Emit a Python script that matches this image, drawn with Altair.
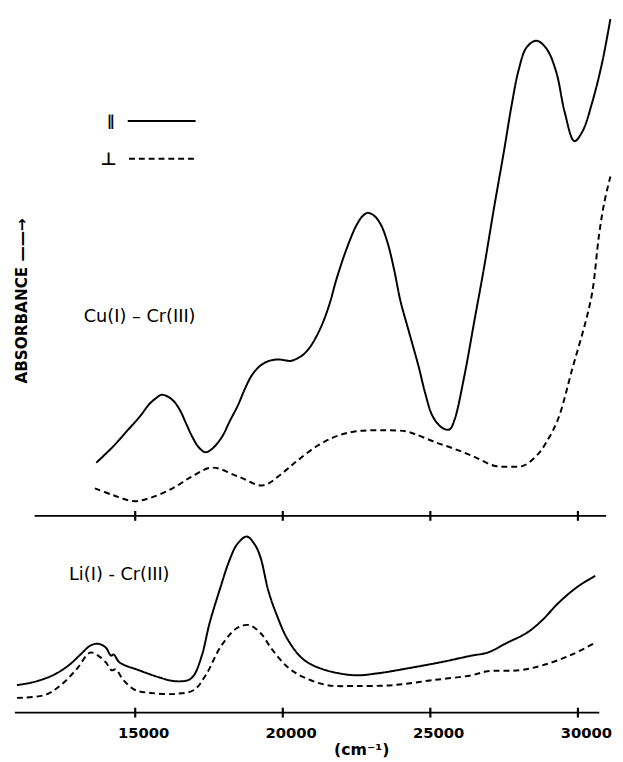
import altair as alt
import pandas as pd

# ---------------- data ----------------
POL = ["∥", "⊥"]
TICKS = [15000, 20000, 25000, 30000]
X_DOMAIN = [10923, 30923]
TOP_AXIS = [11590, 30957]
BOTTOM_AXIS = [10923, 30723]

# Cu(I)-Cr(III), parallel (solid)
CU_PAR_WN = [13680, 14267, 14713, 15157, 15490, 15723, 15880, 16090, 16323, 16523,
             16723, 16923, 17157, 17380, 17600, 17933, 18200, 18490, 18700, 18933,
             19213, 19490, 19823, 20100, 20267, 20490, 20700, 20933, 21150, 21380,
             21600, 21823, 22157, 22490, 22713, 22880, 23100, 23323, 23547, 23767,
             23990, 24267, 24600, 24823, 25050, 25300, 25500, 25657, 25823, 26157,
             26490, 26823, 27157, 27490, 27757, 27990, 28257, 28590, 28933, 29267,
             29547, 29880, 30157, 30490, 30823, 31100]
CU_PAR_A = [0.54, 0.71, 0.86, 1.01, 1.14, 1.20, 1.23, 1.215, 1.16, 1.07,
            0.94, 0.81, 0.695, 0.647, 0.68, 0.80, 0.96, 1.13, 1.28, 1.42,
            1.52, 1.57, 1.59, 1.58, 1.575, 1.60, 1.64, 1.72, 1.83, 1.98,
            2.17, 2.41, 2.71, 2.95, 3.05, 3.08, 3.05, 2.96, 2.78, 2.51,
            2.18, 1.88, 1.52, 1.25, 1.03, 0.92, 0.88, 0.88, 0.98, 1.43,
            1.98, 2.53, 3.13, 3.70, 4.18, 4.53, 4.76, 4.83, 4.75, 4.51,
            4.11, 3.81, 3.91, 4.21, 4.61, 5.05]

# Cu(I)-Cr(III), perpendicular (dashed)
CU_PERP_WN = [13633, 14257, 14937, 15490, 16267, 16923, 17603, 18490, 19323, 20047,
              20490, 21157, 21823, 22490, 23490, 24157, 24490, 25157, 25823, 26490,
              27157, 27657, 28157, 28657, 28933, 29323, 29823, 30267, 30490, 30713,
              30890, 31100]
CU_PERP_A = [0.28, 0.21, 0.15, 0.18, 0.28, 0.40, 0.49, 0.40, 0.31, 0.45,
             0.56, 0.71, 0.81, 0.86, 0.87, 0.86, 0.83, 0.75, 0.68, 0.60,
             0.51, 0.50, 0.51, 0.63, 0.75, 0.98, 1.51, 1.98, 2.28, 2.85,
             3.18, 3.45]

# Li(I)-Cr(III), parallel (solid)
LI_PAR_WN = [10993, 11550, 12213, 12743, 13143, 13473, 13740, 14007, 14177, 14270,
             14470, 15133, 15797, 16327, 16790, 16990, 17257, 17520, 17853, 18183,
             18450, 18780, 19047, 19243, 19510, 19773, 20173, 20703, 21367, 22427,
             23223, 24417, 25480, 26407, 26937, 27600, 28263, 28793, 29323, 29990,
             30587]
LI_PAR_A = [0.28, 0.31, 0.38, 0.48, 0.59, 0.68, 0.70, 0.66, 0.58, 0.59,
            0.51, 0.43, 0.36, 0.32, 0.33, 0.38, 0.58, 0.91, 1.24, 1.54,
            1.71, 1.79, 1.71, 1.58, 1.24, 1.01, 0.74, 0.54, 0.44, 0.38,
            0.40, 0.46, 0.52, 0.58, 0.61, 0.71, 0.81, 0.94, 1.11, 1.28,
            1.39]

# Li(I)-Cr(III), perpendicular (dashed)
LI_PERP_WN = [10993, 11950, 12480, 13010, 13473, 13740, 14007, 14203, 14337, 14603,
              15000, 15530, 16327, 16990, 17387, 17917, 18450, 18847, 19243, 19643,
              20173, 20703, 21500, 22427, 23753, 25080, 26407, 26937, 28000, 28793,
              29723, 30587]
LI_PERP_A = [0.15, 0.18, 0.28, 0.44, 0.61, 0.58, 0.51, 0.43, 0.44, 0.33,
             0.23, 0.20, 0.19, 0.23, 0.38, 0.68, 0.86, 0.89, 0.81, 0.64,
             0.46, 0.36, 0.28, 0.27, 0.28, 0.33, 0.38, 0.42, 0.43, 0.48,
             0.58, 0.71]

TOP_LABEL = {"wn": 13257, "A": 2.02, "label": "Cu(I) – Cr(III)"}
BOTTOM_LABEL = {"wn": 12757, "A": 1.40, "label": "Li(I) - Cr(III)"}

FONT = "DejaVu Sans"
INTERP = "catmull-rom"


def spectra(par_wn, par_a, perp_wn, perp_a):
    a = pd.DataFrame({"wn": par_wn, "A": par_a, "pol": POL[0]})
    b = pd.DataFrame({"wn": perp_wn, "A": perp_a, "pol": POL[1]})
    return pd.concat([a, b], ignore_index=True)


def tick_marks(x_enc, y_enc):
    # short tick strokes crossing the baseline (half-length given as an expression)
    return alt.Chart(pd.DataFrame({"wn": TICKS})).transform_calculate(
        lo="-0.05", hi="0.05"
    ).mark_rule(color="black", strokeWidth=2.2).encode(
        x=x_enc, y=y_enc, y2="hi:Q",
    )


dash_scale = alt.Scale(domain=POL, range=[[1, 0], [6, 4]])
x_scale = alt.Scale(domain=X_DOMAIN, nice=False, zero=False)

# ---------------- top panel ----------------
top_lines = alt.Chart(spectra(CU_PAR_WN, CU_PAR_A, CU_PERP_WN, CU_PERP_A)).mark_line(
    color="black", strokeWidth=2, interpolate=INTERP
).encode(
    x=alt.X("wn:Q", scale=x_scale, axis=None),
    y=alt.Y("A:Q", scale=alt.Scale(domain=[0, 5.1], nice=False, zero=False),
            axis=alt.Axis(title="ABSORBANCE ——→", labels=False, ticks=False, domain=False,
                          grid=False, titleX=7, titleY=291, titleAngle=270,
                          titleBaseline="middle", titleAlign="center",
                          titleFont=FONT, titleFontSize=15.5, titleFontWeight="bold",
                          titleColor="black")),
    strokeDash=alt.StrokeDash("pol:N", scale=dash_scale, legend=None),
)

top_rule = alt.Chart(pd.DataFrame({"wn": [TOP_AXIS[0]], "wn2": [TOP_AXIS[1]], "A": [0.0]})).mark_rule(
    color="black", strokeWidth=2
).encode(x=alt.X("wn:Q", axis=None), x2="wn2:Q", y="A:Q")

top_ticks = tick_marks(alt.X("wn:Q", axis=None), alt.Y("lo:Q"))

top_text = alt.Chart(pd.DataFrame([TOP_LABEL])).mark_text(
    align="left", baseline="middle", font=FONT, fontSize=18, color="black"
).encode(x=alt.X("wn:Q", axis=None), y=alt.Y("A:Q"), text="label:N")

# legend key (drawn in the top-left of the upper panel)
key_par_line = alt.Chart(pd.DataFrame({"pol": [POL[0]]})).mark_rule(
    color="black", strokeWidth=2
).encode(x=alt.value(114.7), x2=alt.value(183.7), y=alt.value(108.7),
         strokeDash=alt.StrokeDash("pol:N", scale=dash_scale, legend=None))
key_perp_line = alt.Chart(pd.DataFrame({"pol": [POL[1]]})).mark_rule(
    color="black", strokeWidth=2
).encode(x=alt.value(116), x2=alt.value(182.7), y=alt.value(147),
         strokeDash=alt.StrokeDash("pol:N", scale=dash_scale, legend=None))
key_par_text = alt.Chart(pd.DataFrame({"pol": [POL[0]]})).mark_text(
    align="center", baseline="middle", font=FONT, fontSize=15, fontWeight="bold",
    color="black"
).encode(x=alt.value(97), y=alt.value(109), text="pol:N")
key_perp_text = alt.Chart(pd.DataFrame({"pol": [POL[1]]})).mark_text(
    align="center", baseline="middle", font=FONT, fontSize=18, fontWeight="bold",
    color="black"
).encode(x=alt.value(95), y=alt.value(148), text="pol:N")

top = alt.layer(top_lines, top_rule, top_ticks, top_text,
                key_par_line, key_perp_line, key_par_text, key_perp_text
                ).properties(width=600, height=510)

# ---------------- bottom panel ----------------
bottom_lines = alt.Chart(spectra(LI_PAR_WN, LI_PAR_A, LI_PERP_WN, LI_PERP_A)).mark_line(
    color="black", strokeWidth=2, interpolate=INTERP
).encode(
    x=alt.X("wn:Q", scale=x_scale,
            axis=alt.Axis(values=TICKS, format="d", domain=False, ticks=False, tickSize=0,
                          grid=False, labelFont=FONT, labelFontSize=15,
                          labelFontWeight="bold", labelColor="black", labelPadding=13,
                          labelOffset=8, title="(cm⁻¹)", titleX=352, titleY=38,
                          titleBaseline="middle", titleAlign="center",
                          titleFont=FONT, titleFontSize=16, titleFontWeight="bold",
                          titleColor="black")),
    y=alt.Y("A:Q", scale=alt.Scale(domain=[0, 2.0], nice=False, zero=False), axis=None),
    strokeDash=alt.StrokeDash("pol:N", scale=dash_scale, legend=None),
)

bottom_rule = alt.Chart(pd.DataFrame({"wn": [BOTTOM_AXIS[0]], "wn2": [BOTTOM_AXIS[1]], "A": [0.0]})).mark_rule(
    color="black", strokeWidth=2
).encode(x="wn:Q", x2="wn2:Q", y=alt.Y("A:Q", axis=None))

bottom_ticks = tick_marks(alt.X("wn:Q"), alt.Y("lo:Q", axis=None))

bottom_text = alt.Chart(pd.DataFrame([BOTTOM_LABEL])).mark_text(
    align="left", baseline="middle", font=FONT, fontSize=18, color="black"
).encode(x="wn:Q", y=alt.Y("A:Q", axis=None), text="label:N")

bottom = alt.layer(bottom_lines, bottom_rule, bottom_ticks, bottom_text).properties(
    width=600, height=200)

chart = alt.vconcat(top, bottom, spacing=0, bounds="flush").properties(
    padding={"left": 5, "top": 0, "right": 0, "bottom": 0},
    background="white",
).configure_view(stroke=None)

chart.save("out.html", embed_options={"renderer": "svg", "actions": False})
